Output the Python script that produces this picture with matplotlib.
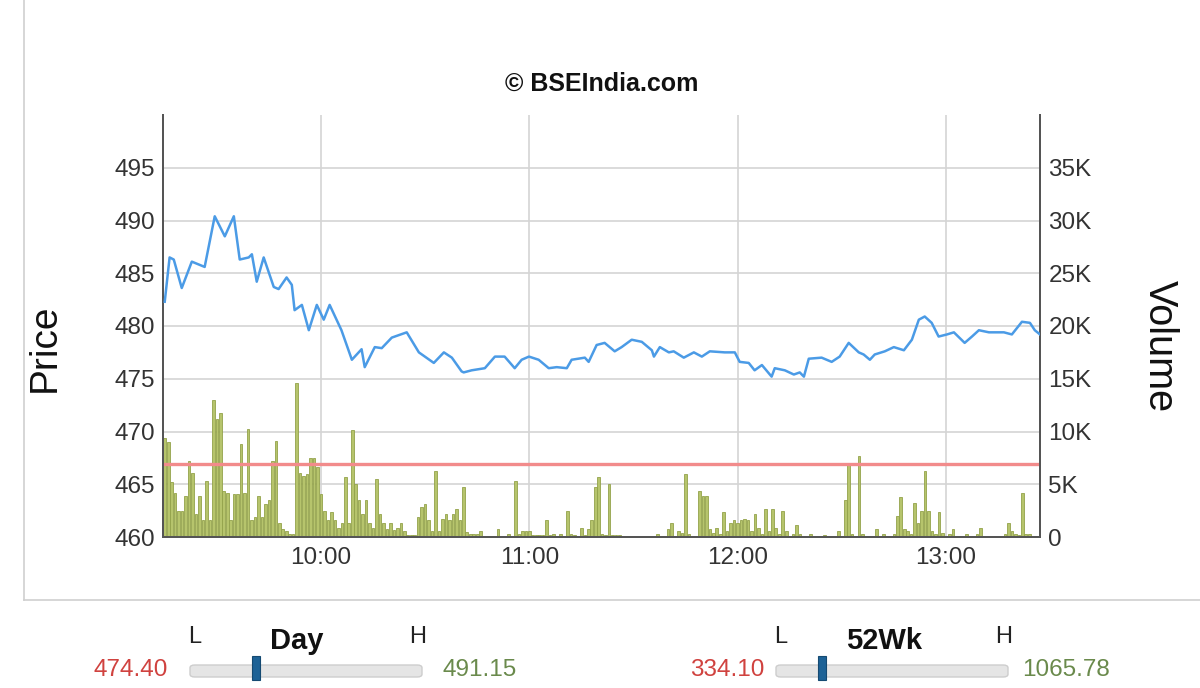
import matplotlib
matplotlib.use("Agg")
import matplotlib.pyplot as plt
from matplotlib.patches import FancyBboxPatch, Rectangle
from matplotlib.lines import Line2D

plt.rcParams['font.family'] = ['Liberation Sans', 'DejaVu Sans']

# ---------------- data ----------------
# minutes since 09:15 and traded price
price_minutes = [
    0.0, 1.4, 2.6, 4.9, 7.8, 11.5, 14.4, 17.3, 19.9, 21.6,
    24.2, 25.1, 26.5, 28.5, 31.4, 32.8, 35.1, 36.6, 37.4, 39.5,
    41.5, 43.8, 45.8, 47.5, 50.9, 53.9, 56.7, 57.6, 60.5, 62.5,
    65.4, 69.7, 73.2, 77.5, 80.4, 82.7, 85.5,
    86.1, 88.4, 92.2, 95.1, 97.9, 100.8, 102.8, 104.9, 107.7, 110.6,
    112.9, 115.8, 117.2, 121.0, 122.1, 124.4, 126.7, 129.6, 131.6, 134.5,
    137.4, 140.3, 140.9, 142.6, 145.2, 146.6, 149.5, 152.4, 154.7, 157.0,
    161.3, 164.2, 165.6, 168.2, 169.9, 172.0, 174.8, 175.7, 178.6, 181.2,
    182.9, 184.1, 185.5,
    189.2, 192.1, 194.4, 197.0, 199.9, 201.3, 203.1, 204.5, 207.4, 210.0,
    212.9, 215.2, 217.2, 218.9, 220.9, 222.9, 225.3, 227.3, 230.4, 232.5,
    234.5, 237.4, 239.1, 241.7, 244.0, 246.9, 249.2, 250.6, 252.1,
]
prices = [
    482.3, 486.5, 486.3, 483.6, 486.1, 485.6, 490.4, 488.5, 490.4, 486.3,
    486.5, 486.8, 484.2, 486.5, 483.7, 483.5, 484.6, 483.9, 481.5, 482.0,
    479.6, 482.0, 480.6, 482.0, 479.6, 476.8, 477.8, 476.1, 478.0, 477.9,
    478.9, 479.4, 477.5, 476.5, 477.5, 477.0, 475.7,
    475.6, 475.8, 476.0, 477.1, 477.1, 476.0, 476.8, 477.1, 476.8, 476.0,
    476.1, 476.0, 476.8, 477.0, 476.6, 478.2, 478.4, 477.6, 478.0, 478.7,
    478.5, 477.7, 477.1, 478.0, 477.5, 477.6, 477.0, 477.5, 477.1, 477.6,
    477.5, 477.5, 476.6, 476.5, 475.8, 476.3, 475.2, 476.0, 475.8, 475.4,
    475.6, 475.2, 476.9,
    477.0, 476.6, 477.1, 478.4, 477.5, 477.3, 476.8, 477.3, 477.6, 478.0,
    477.7, 478.7, 480.6, 480.9, 480.3, 479.0, 479.2, 479.4, 478.4, 479.0,
    479.6, 479.4, 479.4, 479.4, 479.2, 480.4, 480.3, 479.6, 479.2,
]

# per-minute traded volume (thousands), one value per minute from 09:15
volume_k = [
    9.4, 9.0, 5.2, 4.2, 2.5, 2.5, 3.9, 7.2, 6.1, 2.2,
    3.9, 1.6, 5.3, 1.6, 13.0, 11.2, 11.8, 4.4, 4.2, 1.6,
    4.1, 4.1, 8.8, 4.2, 10.2, 1.6, 1.9, 3.9, 1.9, 3.1,
    3.5, 7.2, 9.1, 1.3, 0.8, 0.6, 0.3, 0.3, 14.6, 6.1,
    5.8, 6.0, 7.5, 7.5, 6.6, 4.1, 2.5, 1.6, 2.4, 1.6,
    0.9, 1.3, 5.7, 1.3, 10.1, 5.0, 3.5, 2.2, 3.5, 1.3,
    0.9, 5.5, 2.2, 1.3, 0.8, 1.3, 0.7, 0.9, 1.3, 0.6,
    0.2, 0.2, 0.2, 1.9, 2.8, 3.1, 1.6, 0.6, 6.3, 0.6,
    1.7, 2.2, 1.6, 2.2, 2.7, 1.6, 4.7, 0.5, 0.3, 0.3,
    0.3, 0.6, 0.1, 0.1, 0.1, 0.1, 0.8, 0.1, 0.1, 0.3,
    0.1, 5.3, 0.3, 0.6, 0.6, 0.6, 0.2, 0.2, 0.2, 0.2,
    1.6, 0.2, 0.3, 0.1, 0.3, 0.1, 2.5, 0.3, 0.2, 0.1,
    0.9, 0.2, 0.8, 1.6, 4.7, 5.7, 0.3, 0.2, 5.0, 0.2,
    0.2, 0.2, 0.1, 0.1, 0.1, 0.1, 0.1, 0.1, 0.1, 0.1,
    0.1, 0.1, 0.3, 0.1, 0.1, 0.8, 1.3, 0.1, 0.6, 0.4,
    6.0, 0.3, 0.1, 0.1, 4.4, 3.9, 3.9, 0.8, 0.4, 0.9,
    0.3, 2.4, 0.6, 1.3, 1.6, 1.3, 1.6, 1.7, 1.6, 0.6,
    2.2, 0.9, 0.3, 2.7, 0.6, 2.7, 0.9, 0.3, 2.5, 0.6,
    0.1, 0.3, 1.1, 0.3, 0.1, 0.1, 0.3, 0.1, 0.1, 0.1,
    0.2, 0.1, 0.1, 0.1, 0.6, 0.1, 3.5, 6.9, 0.3, 0.1,
    7.7, 0.3, 0.1, 0.1, 0.1, 0.8, 0.1, 0.3, 0.1, 0.1,
    0.3, 2.0, 3.8, 0.8, 0.6, 0.3, 3.2, 1.3, 2.5, 6.3,
    2.5, 0.6, 0.3, 2.4, 0.4, 0.1, 0.3, 0.8, 0.1, 0.1,
    0.1, 0.3, 0.1, 0.1, 0.3, 0.9, 0.1, 0.1, 0.1, 0.1,
    0.1, 0.1, 0.3, 1.3, 0.6, 0.3, 0.2, 4.2, 0.3, 0.3,
    0.1, 0.1,
]
avg_volume_k = 6.9

time_tick_minutes = [45, 105, 165, 225]
time_tick_labels = ['10:00', '11:00', '12:00', '13:00']
price_ticks = [460, 465, 470, 475, 480, 485, 490, 495]
volume_ticks = [0, 5, 10, 15, 20, 25, 30, 35]
volume_tick_labels = ['0', '5K', '10K', '15K', '20K', '25K', '30K', '35K']

day_low, day_high = 474.40, 491.15
wk52_low, wk52_high = 334.10, 1065.78

# ---------------- figure ----------------
W, H = 1200, 688
fig = plt.figure(figsize=(W / 100, H / 100), dpi=100)
fig.patch.set_facecolor('white')


def fx(px):
    return px / W


def fy(py):
    return 1 - py / H


# outer light frame
fig.add_artist(Line2D([fx(24), fx(24)], [fy(0), fy(600)], transform=fig.transFigure,
                      color='#cfcfcf', lw=1.2))
fig.add_artist(Line2D([fx(24), fx(1200)], [fy(600), fy(600)], transform=fig.transFigure,
                      color='#cfcfcf', lw=1.2))

ax_left, ax_right, ax_top, ax_bot = 163, 1040, 115, 537
axv = fig.add_axes([fx(ax_left), fy(ax_bot), fx(ax_right - ax_left), (ax_bot - ax_top) / H])
ax = axv.twinx()

# volume axis (drawn beneath price)
axv.set_ylim(0, 40)
axv.set_xlim(-0.5, 252.1)
axv.bar(range(len(volume_k)), volume_k, width=0.75, color='#b6c46c',
        edgecolor='#93a24a', linewidth=0.6, zorder=2)
axv.axhline(avg_volume_k, color='#f28b8b', lw=2.4, zorder=3)
axv.set_axisbelow(True)
axv.grid(True, color='#d4d4d4', lw=1.2)
axv.set_xticks(time_tick_minutes)
axv.set_xticklabels(time_tick_labels)
axv.set_yticks(volume_ticks)
axv.set_yticklabels(volume_tick_labels)
axv.yaxis.tick_right()
axv.tick_params(axis='both', length=0, labelsize=17.5, colors='#333333', pad=6)
axv.tick_params(axis='x', pad=7)

# price axis
ax.set_ylim(460, 500)
ax.plot(price_minutes, prices, color='#4b9be6', lw=1.8, zorder=4)
ax.set_yticks(price_ticks)
ax.yaxis.tick_left()
ax.tick_params(axis='y', length=0, labelsize=17.5, colors='#333333', pad=6)

ax.set_zorder(axv.get_zorder() + 1)
ax.patch.set_visible(False)

for a in (ax, axv):
    a.spines['top'].set_visible(False)
    for s in ('left', 'right', 'bottom'):
        a.spines[s].set_color('#555555')
        a.spines[s].set_linewidth(1.4)

# titles / labels
fig.text(fx(602), fy(84), '\u00a9 BSEIndia.com', ha='center', va='center',
         fontsize=18, fontweight='bold', color='#111111')
fig.text(fx(45), fy(348), 'Price', rotation=90, ha='center', va='center',
         fontsize=28, color='#111111')
fig.text(fx(1160), fy(346), 'Volume', rotation=270, ha='center', va='center',
         fontsize=28.5, color='#111111')

# range sliders
low_col, high_col = '#d0423f', '#6a8a4c'
current = prices[-1]


def slider(x0, x1, label, lo, hi, lo_x, hi_x, lbl_x):
    fig.text(fx(x0 + 5), fy(637), 'L', ha='center', va='center', fontsize=17, color='#222222')
    fig.text(fx(x1 - 4), fy(637), 'H', ha='center', va='center', fontsize=17, color='#222222')
    fig.text(fx(lbl_x), fy(641), label, ha='center', va='center', fontsize=21,
             fontweight='bold', color='#111111')
    fig.text(fx(lo_x), fy(670), f'{lo:.2f}', ha='center', va='center', fontsize=17.5, color=low_col)
    fig.text(fx(hi_x), fy(670), f'{hi:.2f}', ha='center', va='center', fontsize=17.5, color=high_col)
    track = FancyBboxPatch((fx(x0), fy(677)), fx(x1 - x0), (677 - 665) / H,
                           boxstyle='round,pad=0,rounding_size=0.004',
                           transform=fig.transFigure, facecolor='#e5e5e5',
                           edgecolor='#cdcdcd', lw=1)
    fig.add_artist(track)
    frac = (current - lo) / (hi - lo)
    mx = x0 + frac * (x1 - x0)
    fig.add_artist(Rectangle((fx(mx - 4), fy(680)), fx(8), (680 - 656) / H,
                             transform=fig.transFigure, facecolor='#1d6296',
                             edgecolor='#154a72', lw=0.8))


slider(190, 422, 'Day', day_low, day_high, 131, 480, 297)
slider(776, 1008, '52Wk', wk52_low, wk52_high, 727, 1066, 884)

fig.savefig('out.png', dpi=100)
